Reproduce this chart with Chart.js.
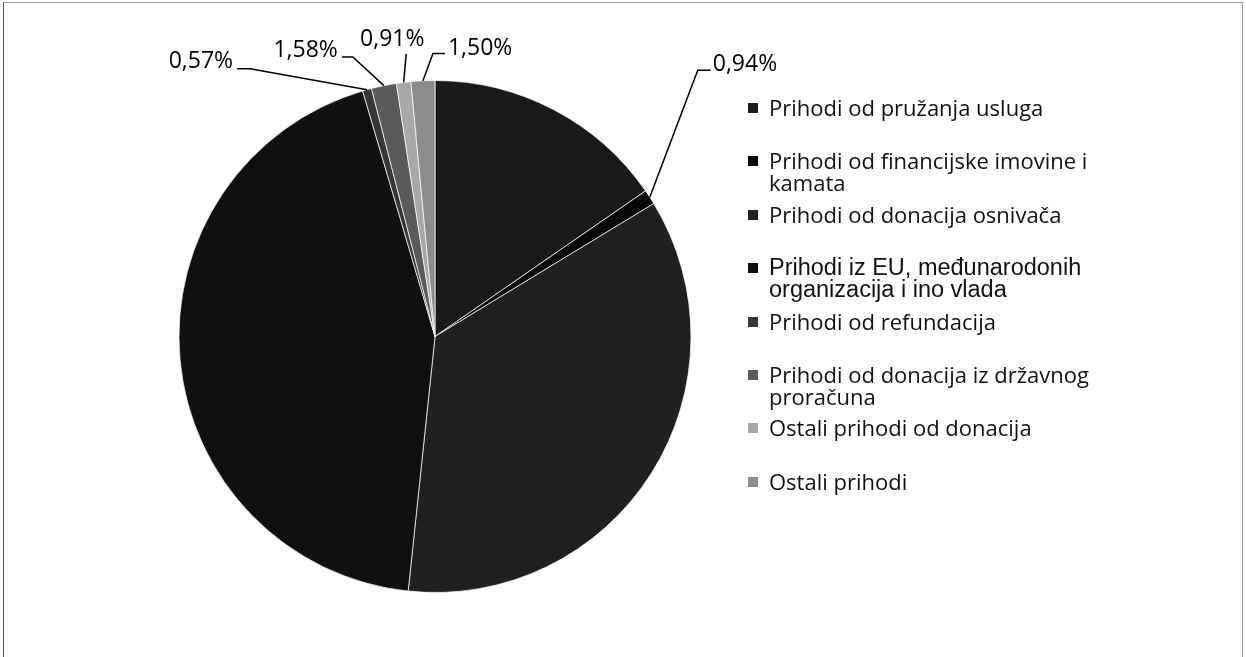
<!DOCTYPE html>
<html>
<head>
<meta charset="utf-8">
<script src="https://cdn.jsdelivr.net/npm/chart.js@4.4.0/dist/chart.umd.min.js"></script>
<style>
  html, body { margin: 0; padding: 0; background: #fff; }
  #wrap { position: relative; width: 1246px; height: 657px; overflow: hidden; }
  #frame { position: absolute; left: 3px; top: 2px; width: 1238px; height: 700px;
           border-left: 1px solid #555; border-top: 1px solid #999; border-right: 1px solid #999; }
  #myChart { position: absolute; left: 0; top: 0; }
  #legend { position: absolute; left: 0; top: 0; font-family: "Open Sans", sans-serif; font-size: 22px; color: #111; }
  .item { position: absolute; left: 748px; }
  .box { position: absolute; left: 0; top: 7px; width: 10px; height: 10px; }
  .txt { position: absolute; left: 21px; top: 0; width: 335px; line-height: 22px; }
  .arial { font-family: "Liberation Sans", Arial, sans-serif; font-size: 23.5px; }
</style>
</head>
<body>
<div id="wrap">
  <div id="frame"></div>
  <canvas id="myChart" width="1246" height="657"></canvas>
  <div id="legend"></div>
</div>
<script>
const categories = [
    "Prihodi od pružanja usluga",
    "Prihodi od financijske imovine i kamata",
    "Prihodi od donacija osnivača",
    "Prihodi iz EU, međunarodonih organizacija i ino vlada",
    "Prihodi od refundacija",
    "Prihodi od donacija iz državnog proračuna",
    "Ostali prihodi od donacija",
    "Ostali prihodi",
];
const shares = [15.37, 0.94, 35.36, 43.77, 0.57, 1.58, 0.91, 1.50];

const sliceColors = ["#1a1a1a", "#080808", "#202020", "#101010", "#363636", "#5a5a5a", "#a8a8a8", "#8c8c8c"];

// leader lines: elbow offset from the slice edge, then a short horizontal run
const leaderLayout = [
    null,
    { ex: 48, ey: -127, run: 13, align: "left", tx: 2, ty: -6 },
    null,
    null,
    { ex: -117, ey: -21, run: -13, align: "right", tx: -4, ty: -7 },
    { ex: -31, ey: -28.6, run: -11, align: "right", tx: -4, ty: -7 },
    { ex: 2.6, ey: -28.5, run: 0, align: "center", tx: -14, ty: -14 },
    { ex: 10, ey: -27.3, run: 12, align: "left", tx: 3, ty: -5 },
];

function fmtPct(v) {
    return v.toFixed(2).replace(".", ",") + "%";
}

const leaderPlugin = {
    id: "leaders",
    afterDatasetsDraw(chart) {
        const ctx = chart.ctx;
        const meta = chart.getDatasetMeta(0);
        ctx.save();
        ctx.strokeStyle = "#000";
        ctx.lineWidth = 1.5;
        ctx.fillStyle = "#000";
        ctx.font = "23px 'Open Sans', sans-serif";
        ctx.textBaseline = "middle";
        meta.data.forEach((arc, i) => {
            const lay = leaderLayout[i];
            if (!lay) return;
            const p = arc.getProps(["x", "y", "startAngle", "endAngle", "outerRadius"], true);
            const mid = (p.startAngle + p.endAngle) / 2;
            const ax = p.x + Math.cos(mid) * p.outerRadius;
            const ay = p.y + Math.sin(mid) * p.outerRadius;
            const ex = ax + lay.ex, ey = ay + lay.ey;
            const hx = ex + lay.run;
            ctx.beginPath();
            ctx.moveTo(ax, ay);
            ctx.lineTo(ex, ey);
            ctx.lineTo(hx, ey);
            ctx.stroke();
            ctx.textAlign = lay.align;
            ctx.fillText(fmtPct(shares[i]), hx + lay.tx, ey + lay.ty);
        });
        ctx.restore();
    },
};

const ctx = document.getElementById("myChart").getContext("2d");
const myChart = new Chart(ctx, {
    type: "pie",
    data: {
        labels: categories,
        datasets: [
            {
                data: shares,
                backgroundColor: sliceColors,
                borderColor: "rgba(255,255,255,0.7)",
                borderWidth: 1,
            },
        ],
    },
    options: {
        responsive: false,
        animation: false,
        layout: {
            padding: { left: 178.5, right: 554.5, top: 80, bottom: 64 },
        },
        plugins: {
            legend: { display: false },
            tooltip: { enabled: false },
        },
    },
    plugins: [leaderPlugin],
});

// legend on the right
const legendEl = document.getElementById("legend");
categories.forEach((name, i) => {
    const item = document.createElement("div");
    item.className = "item";
    item.style.top = (96 + i * 53.4) + "px";
    const box = document.createElement("div");
    box.className = "box";
    box.style.background = sliceColors[i];
    const txt = document.createElement("div");
    txt.className = "txt" + (i === 3 ? " arial" : "");
    txt.textContent = name;
    item.appendChild(box);
    item.appendChild(txt);
    legendEl.appendChild(item);
});
</script>
</body>
</html>
